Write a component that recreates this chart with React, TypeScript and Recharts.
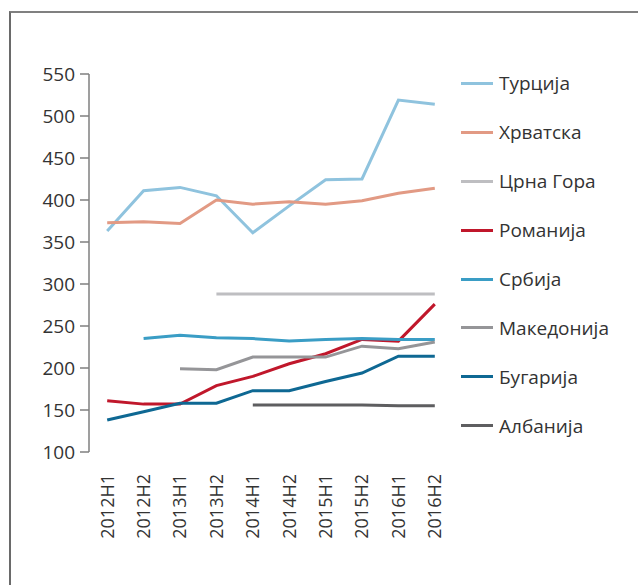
import React from "react";
import { Legend, Line, LineChart, XAxis, YAxis } from "recharts";

const periods = [
  "2012H1", "2012H2", "2013H1", "2013H2", "2014H1",
  "2014H2", "2015H1", "2015H2", "2016H1", "2016H2",
];

const turcija = [363, 411, 415, 405, 361, 393, 424, 425, 519, 514];
const hrvatska = [373, 374, 372, 400, 395, 398, 395, 399, 408, 414];
const crnaGora = [null, null, null, 288, 288, 288, 288, 288, 288, 288];
const romanija = [161, 157, 157, 179, 190, 205, 217, 234, 232, 276];
const srbija = [null, 235, 239, 236, 235, 232, 234, 235, 234, 234];
const makedonija = [null, null, 199, 198, 213, 213, 213, 226, 223, 231];
const bugarija = [138, 148, 158, 158, 173, 173, 184, 194, 214, 214];
const albanija = [null, null, null, null, 156, 156, 156, 156, 155, 155];

const yTicks = [100, 150, 200, 250, 300, 350, 400, 450, 500, 550];
const boundaryTicks = [0, 1, 2, 3, 4, 5, 6, 7, 8, 9, 10];

const series = [
  { key: "turcija", name: "Турција", color: "#8fc3de", values: turcija },
  { key: "hrvatska", name: "Хрватска", color: "#e29a84", values: hrvatska },
  { key: "crnaGora", name: "Црна Гора", color: "#bebec1", values: crnaGora },
  { key: "romanija", name: "Романија", color: "#c0172b", values: romanija },
  { key: "srbija", name: "Србија", color: "#3a9dc5", values: srbija },
  { key: "makedonija", name: "Македонија", color: "#959598", values: makedonija },
  { key: "bugarija", name: "Бугарија", color: "#0e6893", values: bugarija },
  { key: "albanija", name: "Албанија", color: "#5e5e60", values: albanija },
];

const data = periods.map((period, i) => {
  const row: Record<string, any> = { period };
  series.forEach((s) => {
    row[s.key] = s.values[i];
  });
  return row;
});

const TEXT = "#333333";
const AXIS = "#7f7f7f";

function PeriodTick(props: any) {
  const { x, y, payload } = props;
  return (
    <text
      transform={`translate(${x},${y + 14}) rotate(-90)`}
      textAnchor="end"
      dy="0.35em"
      fontSize={18}
      fill={TEXT}
    >
      {payload.value}
    </text>
  );
}

// legend keeps the series order (recharts sorts payload by name otherwise)
function LegendList() {
  return (
    <div>
      {series.map((s) => (
        <div key={s.key} style={{ height: 48.9, display: "flex", alignItems: "center" }}>
          <div style={{ width: 32, height: 3, background: s.color, marginRight: 6 }} />
          <span style={{ fontSize: 19, color: TEXT, whiteSpace: "nowrap" }}>{s.name}</span>
        </div>
      ))}
    </div>
  );
}

export default function App() {
  return (
    <div
      style={{
        position: "fixed",
        left: 0,
        top: 0,
        width: 638,
        height: 585,
        overflow: "hidden",
        background: "#fff",
        fontFamily: "'Open Sans', sans-serif",
      }}
    >
      <div
        style={{
          position: "absolute",
          left: 9,
          top: 11,
          width: 700,
          height: 700,
          borderTop: "2px solid #808080",
          borderLeft: "2px solid #6a6a6a",
        }}
      />
      <div style={{ position: "absolute", left: 0, top: 0 }}>
        <LineChart
          width={630}
          height={585}
          data={data}
          margin={{ top: 74, left: 29, right: 177, bottom: 43 }}
        >
          <YAxis
            width={60}
            domain={[100, 550]}
            ticks={yTicks}
            interval={0}
            tickSize={9}
            tickMargin={5}
            axisLine={{ stroke: AXIS, strokeWidth: 1.5 }}
            tickLine={{ stroke: AXIS, strokeWidth: 1.5 }}
            tick={{ fontSize: 19, fill: TEXT }}
          />
          <XAxis
            xAxisId="bounds"
            type="number"
            domain={[0, 10]}
            ticks={boundaryTicks}
            interval={0}
            height={0}
            tick={false}
            tickSize={8}
            axisLine={{ stroke: AXIS, strokeWidth: 1.5 }}
            tickLine={{ stroke: AXIS, strokeWidth: 1.5 }}
          />
          <XAxis
            dataKey="period"
            scale="band"
            height={90}
            interval={0}
            axisLine={false}
            tickLine={false}
            tick={<PeriodTick />}
          />
          <Legend
            layout="vertical"
            align="center"
            verticalAlign="middle"
            content={<LegendList />}
            wrapperStyle={{ left: 461, top: 59, width: 170 }}
          />
          {series.map((s) => (
            <Line
              key={s.key}
              dataKey={s.key}
              name={s.name}
              stroke={s.color}
              strokeWidth={3}
              dot={false}
              activeDot={false}
              connectNulls={false}
              isAnimationActive={false}
            />
          ))}
        </LineChart>
      </div>
    </div>
  );
}
